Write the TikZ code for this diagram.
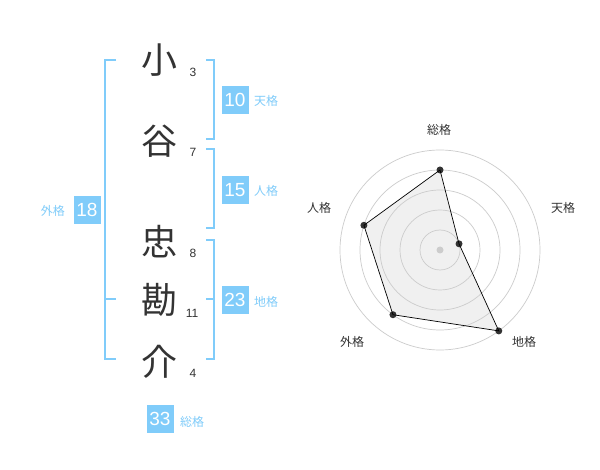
\documentclass[tikz,border=0pt]{standalone}
\usepackage{fontspec}
\setmainfont{Liberation Sans}
\newfontfamily\jp{Noto Sans CJK JP}
\definecolor{lblue}{RGB}{128,204,250}
\definecolor{dgray}{RGB}{51,51,51}
\definecolor{ring}{RGB}{204,204,204}
\definecolor{pfill}{RGB}{240,240,240}
\tikzset{
  kanji/.style={font=\jp\fontsize{36}{36}\selectfont, text=dgray, inner sep=0pt},
  strokes/.style={font=\fontsize{12}{12}\selectfont, text=dgray, inner sep=0pt},
  scorebox/.style={fill=lblue, text=white, minimum width=27pt, minimum height=28pt, inner sep=0pt, font=\fontsize{19}{19}\selectfont},
  kakulabel/.style={font=\jp\fontsize{12}{12}\selectfont, text=lblue, inner sep=0pt},
  bracket/.style={draw=lblue, line width=1.6pt},
  radlabel/.style={font=\jp\fontsize{12}{12}\selectfont, text=dgray, inner sep=0pt},
  ringline/.style={draw=ring, line width=0.7pt},
  dot/.style={circle, fill=dgray, inner sep=0pt, minimum size=7pt},
}
\begin{document}
\begin{tikzpicture}[x=1pt,y=-1pt]
\useasboundingbox[fill=white] (0,0) rectangle (600,470);
% kanji
\node[kanji] (k1) at (159,60) {小};
\node[kanji] (k2) at (159,141) {谷};
\node[kanji] (k3) at (159,242) {忠};
\node[kanji] (k4) at (159,300) {勘};
\node[kanji] (k5) at (159,362) {介};
% stroke counts
\node[strokes] (s1) at (193,72) {3};
\node[strokes] (s2) at (193,152) {7};
\node[strokes] (s3) at (193,253) {8};
\node[strokes] (s4) at (192,313) {11};
\node[strokes] (s5) at (193,373) {4};
% brackets
\draw[bracket] (116,60) -- (105,60) -- (105,359) -- (116,359);
\draw[bracket] (105,299) -- (116,299);
\draw[bracket] (206,60) -- (214,60) -- (214,139) -- (206,139);
\draw[bracket] (206,149) -- (214,149) -- (214,228) -- (206,228);
\draw[bracket] (206,240) -- (214,240) -- (214,359) -- (206,359);
\draw[bracket] (206,299) -- (214,299);
% score boxes
\node[scorebox] (b1) at (235,100) {10};
\node[kakulabel, anchor=west] (l1) at (254,101) {天格};
\node[scorebox] (b2) at (235,190) {15};
\node[kakulabel, anchor=west] (l2) at (254,191) {人格};
\node[scorebox] (b3) at (235,300) {23};
\node[kakulabel, anchor=west] (l3) at (254,302) {地格};
\node[scorebox] (b4) at (87,210) {18};
\node[kakulabel, anchor=east] (l4) at (65,211) {外格};
\node[scorebox] (b5) at (160,419) {33};
\node[kakulabel, anchor=west] (l5) at (180,422) {総格};
% radar chart
\begin{scope}[shift={(440,250)}, y=1pt]
  \coordinate (c) at (0,0);
  \fill[pfill] (90:80) -- (18:20) -- (-54:100) -- (234:80) -- (162:80) -- cycle;
  \foreach \r in {20,40,60,80,100} \draw[ringline] (c) circle (\r);
  \fill[ring] (c) circle (3.5);
  \node[dot] (p1) at (90:80) {};
  \node[dot] (p2) at (18:20) {};
  \node[dot] (p3) at (-54:100) {};
  \node[dot] (p4) at (234:80) {};
  \node[dot] (p5) at (162:80) {};
  \draw[black, line width=0.7pt] (p1.center) -- (p2.center) -- (p3.center) -- (p4.center) -- (p5.center) -- cycle;
  \node[radlabel] (r1) at (-1,120) {総格};
  \node[radlabel] (r2) at (123,42) {天格};
  \node[radlabel] (r3) at (84,-92) {地格};
  \node[radlabel] (r4) at (-88,-92) {外格};
  \node[radlabel] (r5) at (-121,42) {人格};
\end{scope}
\end{tikzpicture}
\end{document}
